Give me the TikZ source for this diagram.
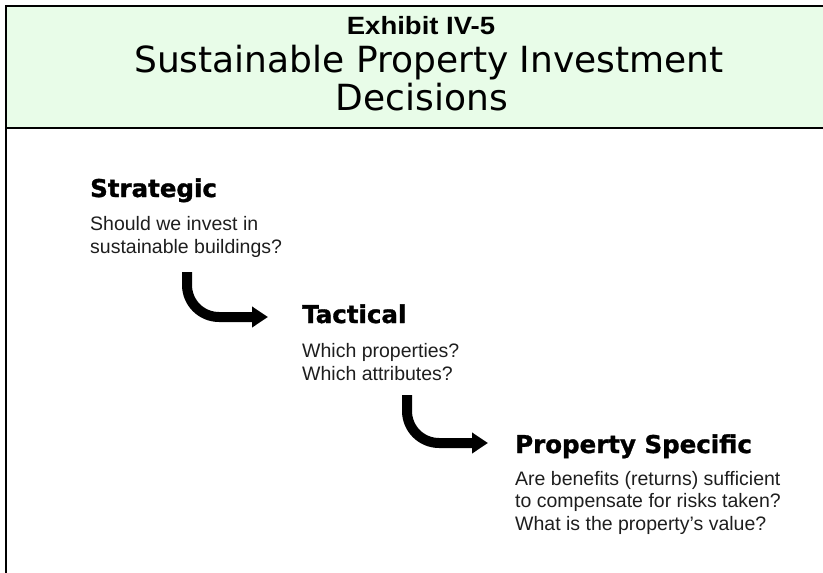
\documentclass[tikz,border=0pt]{standalone}
\usepackage{fontspec}
\usepackage{graphicx}
\setmainfont{Liberation Sans}
\newfontfamily\dejavu{DejaVu Sans}
\newfontfamily\headfont[FakeBold=1.2]{DejaVu Sans Bold}
\usetikzlibrary{arrows.meta}
\definecolor{headgreen}{RGB}{232,252,232}
\definecolor{bodygrey}{RGB}{30,30,30}
\tikzset{
  frame/.style={draw=black, line width=2.5pt},
  exhibit/.style={anchor=base, inner sep=0pt, font=\fontsize{25}{28}\selectfont\bfseries},
  titletext/.style={anchor=base, inner sep=0pt, font=\dejavu\fontsize{36}{38}\selectfont},
  heading/.style={anchor=base west, inner sep=0pt, font=\headfont\fontsize{24.5}{28}\selectfont},
  bodytext/.style={anchor=base west, inner sep=0pt, align=left, text=bodygrey, font=\fontsize{19.5}{22.5}\selectfont},
  flowarrow/.style={line width=10pt, rounded corners=32pt, -{Triangle[length=16pt,width=20pt]}}
}
\begin{document}
\begin{tikzpicture}[x=1pt,y=-1pt]
\useasboundingbox (0,0) rectangle (823,573);
% header box (its right edge lies beyond the picture)
\fill[headgreen] (6,6) rectangle (830,128);
\draw[frame] (6,573) -- (6,6) -- (830,6);
\draw[frame] (6,128) -- (830,128);
\node[exhibit] (ex) at (421,34) {\scalebox{1.1}[1]{Exhibit IV-5}};
\node[titletext] (t1) at (429,72) {Sustainable Property Investment};
\node[titletext] (t2) at (422,110) {Decisions};
% stages (multi-line nodes are placed by the baseline of their last line)
\node[heading] (strat) at (90,197) {Strategic};
\node[bodytext] (stratq) at (90,253) {Should we invest in\\sustainable buildings?};
\node[heading] (tact) at (302,323) {Tactical};
\node[bodytext] (tactq) at (302,380) {Which properties?\\Which attributes?};
\node[heading] (prop) at (515,453) {Property Specific};
\node[bodytext] (propq) at (515,530) {Are benefits (returns) sufficient\\to compensate for risks taken?\\What is the property's value?};
% arrows
\coordinate (a1s) at (187,272);
\coordinate (a1e) at (268,317);
\coordinate (a2s) at (407,395);
\coordinate (a2e) at (488,443);
\draw[flowarrow] (a1s) |- (a1e);
\draw[flowarrow] (a2s) |- (a2e);
\end{tikzpicture}
\end{document}
